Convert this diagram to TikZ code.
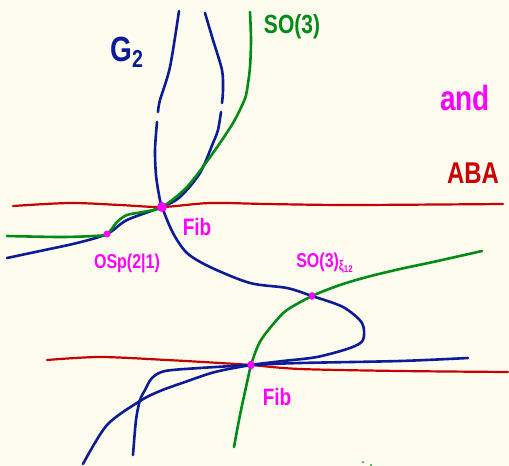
\documentclass[tikz,border=0pt]{standalone}
\usepackage{fontspec}
\setmainfont{Liberation Sans}
\usetikzlibrary{shapes.geometric}
\definecolor{paper}{RGB}{254,252,239}
\definecolor{gblue}{RGB}{12,28,150}
\definecolor{sgreen}{RGB}{0,140,20}
\definecolor{ared}{RGB}{200,0,0}
\definecolor{pink}{RGB}{255,0,255}
\newcommand{\tallhand}[1]{\scalebox{1}[1.25]{#1}}

\begin{document}
\begin{tikzpicture}[x=1pt, y=-1pt,
  g2/.style={gblue, line width=2.6pt, line cap=round, line join=round},
  so3/.style={g2, sgreen},
  aba/.style={g2, ared, line width=2.2pt},
  spot/.style={ellipse, fill=pink, inner sep=0pt},
  hand/.style={inner sep=0pt, font=\bfseries\fontsize{#1}{#1}\selectfont},
  lab/.style={hand=#1, text=pink}
]
\fill[paper] (0,0) rectangle (509,466);
\useasboundingbox (0,0) rectangle (509,466);

\coordinate (fibtop) at (162,207);
\coordinate (osp) at (107,234);
\coordinate (soxi) at (312,296);
\coordinate (fibbot) at (251,365);

% ABA lines
\draw[aba] plot[smooth] coordinates {(13,206) (70,203) (120,205) (fibtop) (210,203) (267,204) (350,205) (503,204)};
\draw[aba] plot[smooth] coordinates {(47,360) (100,357) (167,360) (220,363) (fibbot) (300,369) (400,371) (508,372)};

% G2 strands
\draw[g2] plot[smooth] coordinates {(179,11) (170,67) (160,100) (158,112)};
\draw[g2] plot[smooth] coordinates {(157,122) (155,150) (156,175) (159,195) (fibtop) (173,233) (187,253)
  (210,267) (250,283) (287,288) (soxi) (343,307) (362,323) (363,340) (350,348) (317,357) (283,361)
  (fibbot) (215,372) (185,382) (160,391) (140,401) (107,425) (83,464)};
\draw[g2] plot[smooth] coordinates {(205,13) (213,40) (222,70) (223,90) (222,103)};
\draw[g2] plot[smooth] coordinates {(221,112) (218,130) (213,143) (200,173) (180,197) (fibtop)
  (127,220) (osp) (77,243) (40,251) (7,258)};
\draw[g2] plot[smooth] coordinates {(468,358) (400,361) (300,363) (fibbot) (200,368) (165,371)
  (152,378) (145,390) (140,400) (136,420) (133,455)};

% so(3) curves
\draw[so3] plot[smooth] coordinates {(250,12) (251,40) (250,67) (247,90) (244,101) (233,123)
  (213,153) (187,187) (fibtop) (143,212) (127,215) (117,222) (osp) (93,236) (60,237) (7,236)};
\draw[so3] plot[smooth] coordinates {(234,447) (240,415) (248,378) (fibbot) (257,348) (263,337)
  (275,322) (287,310) (soxi) (340,285) (367,277) (400,269) (433,262) (482,251)};
\fill[sgreen] (363,462) circle (1pt) (371,465) circle (1pt);

% special points
\node[spot, minimum width=10pt, minimum height=10pt] (fibtopdot) at (fibtop) {};
\node[spot, minimum width=7pt, minimum height=7pt] (ospdot) at (osp) {};
\node[spot, minimum width=6pt, minimum height=8pt] (soxidot) at (soxi) {};
\node[spot, minimum width=7pt, minimum height=9pt] (fibbotdot) at (fibbot) {};

% labels
\node[hand=28, text=gblue] (g2lab) at (127,52) {\tallhand{G\textsubscript{2}}};
\node[hand=21, text=sgreen] (so3lab) at (292,27) {\tallhand{SO(3)}};
\node[lab=28] (andlab) at (465,98) {\tallhand{and}};
\node[hand=24, text=ared] (abalab) at (473,173) {\tallhand{ABA}};
\node[lab=19] (fibtoplab) at (197,227) {\tallhand{Fib}};
\node[lab=16] (osplab) at (127,263) {\tallhand{OSp(2|1)}};
\node[lab=16] (soxilab) at (325,263) {\tallhand{SO(3)\textsubscript{ξ\textsubscript{12}}}};
\node[lab=19] (fibbotlab) at (277,397) {\tallhand{Fib}};
\end{tikzpicture}
\end{document}
